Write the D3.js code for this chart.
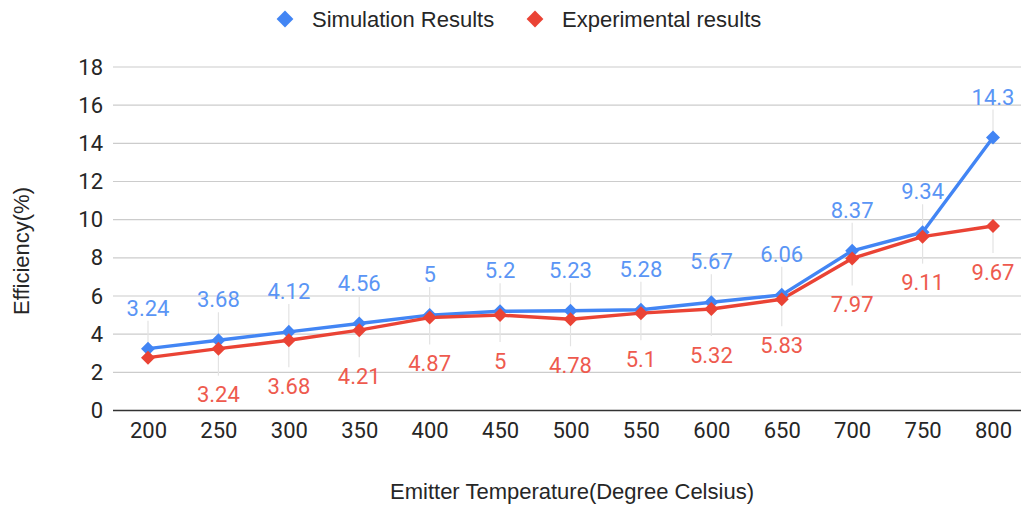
<!DOCTYPE html>
<html>
<head>
<meta charset="utf-8">
<script src="https://cdn.jsdelivr.net/npm/d3@7"></script>
<style>
  html, body { margin: 0; padding: 0; background: #fff; }
  svg { display: block; }
</style>
</head>
<body>
<svg id="chart" width="1025" height="506"></svg>
<script>
// Emitter temperatures (°C) and efficiencies (%)
const temperatures = [200, 250, 300, 350, 400, 450, 500, 550, 600, 650, 700, 750, 800];
const simulation = [3.24, 3.68, 4.12, 4.56, 5, 5.2, 5.23, 5.28, 5.67, 6.06, 8.37, 9.34, 14.3];
const experimental = [2.77, 3.24, 3.68, 4.21, 4.87, 5, 4.78, 5.1, 5.32, 5.83, 7.97, 9.11, 9.67];
// the first experimental point carries no label
const experimentalLabelled = [false, true, true, true, true, true, true, true, true, true, true, true, true];
const yTicks = [0, 2, 4, 6, 8, 10, 12, 14, 16, 18];
const seriesNames = ["Simulation Results", "Experimental results"];

const svg = d3.select("#chart");
const plotLeft = 113, plotRight = 1021, plotTop = 67, plotBottom = 410.5;
const numFont = "Roboto, sans-serif";
const textFont = "Liberation Sans, Arial, sans-serif";
const fontSize = 22;
const inkColor = "#262626";

const x = d3.scalePoint().domain(temperatures).range([148, 993]);
const y = d3.scaleLinear().domain([0, 18]).range([plotBottom, plotTop]);

const blue = "#4285f4", red = "#ea4335";
const blueLabel = "#5a95f5", redLabel = "#ee5a4e";

// horizontal gridlines
svg.append("g")
  .selectAll("line")
  .data(yTicks.filter(d => d !== 0))
  .join("line")
  .attr("x1", plotLeft).attr("x2", plotRight)
  .attr("y1", d => y(d)).attr("y2", d => y(d))
  .attr("stroke", "#cccccc").attr("stroke-width", 1.2);

// y tick labels
const yAxis = svg.append("g")
  .attr("transform", `translate(${plotLeft},0)`)
  .call(d3.axisLeft(y).tickValues(yTicks).tickSize(0).tickPadding(10));
yAxis.select(".domain").remove();
yAxis.selectAll("text")
  .attr("font-family", numFont).attr("font-size", fontSize).attr("fill", inkColor);

// x tick labels
const xAxis = svg.append("g")
  .attr("transform", `translate(0,${plotBottom})`)
  .call(d3.axisBottom(x).tickSize(0).tickPadding(12));
xAxis.select(".domain").remove();
xAxis.selectAll("text")
  .attr("font-family", numFont).attr("font-size", fontSize).attr("fill", inkColor);

// baseline
svg.append("line")
  .attr("x1", plotLeft).attr("x2", plotRight)
  .attr("y1", y(0)).attr("y2", y(0))
  .attr("stroke", "#333").attr("stroke-width", 1.5);

const series = [
  { name: seriesNames[0], values: simulation, color: blue, labelColor: blueLabel, above: true,
    show: temperatures.map(() => true) },
  { name: seriesNames[1], values: experimental, color: red, labelColor: redLabel, above: false,
    show: experimentalLabelled }
];

// leader lines from each point to its value label
series.forEach(s => {
  svg.append("g")
    .selectAll("line")
    .data(temperatures.map((t, i) => ({ t, v: s.values[i], show: s.show[i] })).filter(d => d.show))
    .join("line")
    .attr("x1", d => x(d.t)).attr("x2", d => x(d.t))
    .attr("y1", d => y(d.v))
    .attr("y2", d => s.above ? y(d.v) - 28 : y(d.v) + 27)
    .attr("stroke", "#e3e3e3").attr("stroke-width", 1.2);
});

const line = d3.line().x(d => x(d.t)).y(d => y(d.v));
const diamond = d3.symbol().type(d3.symbolDiamond2).size(125);

series.forEach(s => {
  const pts = temperatures.map((t, i) => ({ t, v: s.values[i] }));
  svg.append("path")
    .datum(pts)
    .attr("d", line)
    .attr("fill", "none").attr("stroke", s.color).attr("stroke-width", 3.4)
    .attr("stroke-linejoin", "round");
});

series.forEach(s => {
  const pts = temperatures.map((t, i) => ({ t, v: s.values[i] }));
  svg.append("g")
    .selectAll("path")
    .data(pts)
    .join("path")
    .attr("d", diamond)
    .attr("transform", d => `translate(${x(d.t)},${y(d.v)})`)
    .attr("fill", s.color);
});

// value labels
series.forEach(s => {
  svg.append("g")
    .selectAll("text")
    .data(temperatures.map((t, i) => ({ t, v: s.values[i], show: s.show[i] })).filter(d => d.show))
    .join("text")
    .attr("x", d => x(d.t))
    .attr("y", d => s.above ? y(d.v) - 40.5 : y(d.v) + 46)
    .attr("dy", "0.35em")
    .attr("text-anchor", "middle")
    .attr("font-family", numFont).attr("font-size", fontSize)
    .attr("fill", s.labelColor)
    .text(d => d.v);
});

// legend
const legendItems = [
  { name: seriesNames[0], color: blue, x: 285 },
  { name: seriesNames[1], color: red, x: 535 }
];
const lg = svg.append("g");
legendItems.forEach(item => {
  lg.append("path")
    .attr("d", d3.symbol().type(d3.symbolDiamond2).size(180))
    .attr("transform", `translate(${item.x},19)`)
    .attr("fill", item.color);
  lg.append("text")
    .attr("x", item.x + 27).attr("y", 19).attr("dy", "0.35em")
    .attr("font-family", textFont).attr("font-size", fontSize)
    .attr("fill", inkColor)
    .text(item.name);
});

// axis titles
svg.append("text")
  .attr("x", 572).attr("y", 491).attr("dy", "0.35em")
  .attr("text-anchor", "middle")
  .attr("font-family", textFont).attr("font-size", fontSize)
  .attr("fill", inkColor)
  .text("Emitter Temperature(Degree Celsius)");

svg.append("text")
  .attr("transform", "translate(21,251) rotate(-90)")
  .attr("dy", "0.35em")
  .attr("text-anchor", "middle")
  .attr("font-family", textFont).attr("font-size", fontSize)
  .attr("fill", inkColor)
  .text("Efficiency(%)");
</script>
</body>
</html>
